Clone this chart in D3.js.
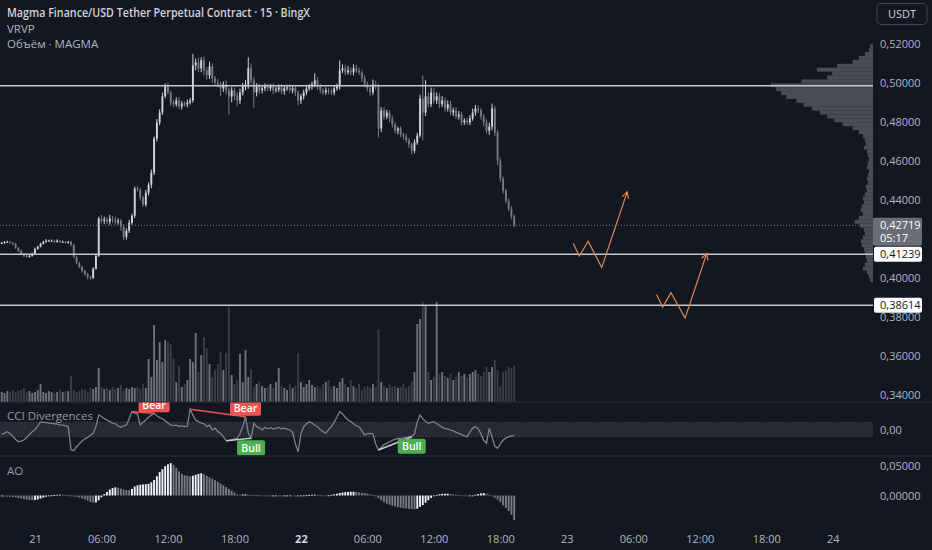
<!DOCTYPE html>
<html>
<head>
<meta charset="utf-8">
<script src="https://cdn.jsdelivr.net/npm/d3@7"></script>
<style>
  body { margin: 0; background: #131722; }
  svg { display: block; font-family: "Open Sans", "Noto Sans", sans-serif; }
</style>
</head>
<body>
<svg id="chart" width="932" height="550"></svg>
<script>
// 15-minute candles, first bar 20th 21:00
const closes = [
  0.4182,0.4187,0.4187,0.4182,0.4177,0.4156,0.4141,0.4126,0.4115,0.4110,0.4115,0.4126,
  0.4151,0.4162,0.4177,0.4187,0.4193,0.4193,0.4193,0.4187,0.4193,0.4187,0.4187,0.4182,
  0.4187,0.4172,0.4110,0.4079,0.4059,0.4038,0.4023,0.4007,0.4002,0.4049,0.4115,0.4306,
  0.4295,0.4301,0.4290,0.4306,0.4301,0.4290,0.4295,0.4264,0.4213,0.4244,0.4285,0.4321,
  0.4460,0.4455,0.4414,0.4378,0.4439,0.4480,0.4542,0.4717,0.4799,0.4850,0.4933,0.4984,
  0.4953,0.4902,0.4892,0.4912,0.4881,0.4897,0.4892,0.4902,0.4912,0.5092,0.5107,0.5077,
  0.5118,0.5066,0.5041,0.5087,0.5025,0.5005,0.4994,0.4974,0.4994,0.4964,0.4933,0.4964,
  0.4938,0.4912,0.4953,0.4984,0.4994,0.5077,0.5015,0.4953,0.4984,0.4964,0.4974,0.4984,
  0.4974,0.4984,0.4964,0.4969,0.4979,0.4959,0.4974,0.4979,0.4964,0.4974,0.4953,0.4912,
  0.4933,0.4953,0.4974,0.4984,0.4994,0.5015,0.4984,0.4964,0.4953,0.4964,0.4959,0.4953,
  0.4974,0.4984,0.5066,0.5077,0.5056,0.5066,0.5056,0.5077,0.5066,0.5056,0.5025,0.4994,
  0.4974,0.4953,0.4994,0.4984,0.4768,0.4861,0.4830,0.4850,0.4820,0.4789,0.4758,0.4768,
  0.4737,0.4727,0.4707,0.4686,0.4655,0.4696,0.4732,0.4922,0.4850,0.4933,0.4892,0.4953,
  0.4912,0.4933,0.4892,0.4912,0.4871,0.4892,0.4850,0.4861,0.4830,0.4840,0.4799,0.4809,
  0.4799,0.4820,0.4850,0.4871,0.4861,0.4830,0.4799,0.4758,0.4778,0.4871,0.4748,0.4604,
  0.4511,0.4450,0.4398,0.4357,0.4316,0.42719
];
const firstOpen = 0.4180;
// wick lengths above / below the body, in 0.0001
const wickUp = [
  5,4,6,5,4,3,4,5,4,6,5,6, 6,5,5,6,8,5,6,5,7,4,6,5, 5,6,4,5,6,5,4,6,5,8,6,10,
  18,15,12,20,14,16,12,10,14,12,15,10, 10,12,8,10,14,12,15,10,18,16,20,15,
  20,10,12,15,18,12,10,14,12,58,20,25, 15,20,18,25,15,12,18,14,15,20,14,16,
  14,16,20,18,22,56,25,18,16,14,18,15, 14,12,16,12,15,18,12,14,16,12,14,10,
  12,14,16,12,14,36,16,14,12,15,12,14, 12,14,52,20,18,22,16,20,18,15,14,16,
  14,16,25,20,14,16,18,14,12,14,12,10, 12,10,14,12,10,16,14,20,119,82,20,25,
  25,20,18,22,16,20,18,14,16,18,14,12, 14,16,20,18,15,12,14,16,20,25,14,12,
  14,12,10,12,14,10
];
const wickDn = [
  4,5,3,4,6,5,6,5,6,4,5,4, 4,5,4,3,5,4,5,6,4,5,3,5, 5,8,6,7,6,8,10,12,10,6,5,6,
  14,16,12,15,18,14,15,20,16,14,12,10, 12,10,15,12,10,14,18,12,15,14,12,10,
  12,18,15,12,14,16,12,15,10,12,25,20, 20,25,22,18,24,20,16,40,18,20,95,30,
  25,30,18,16,20,22,18,80,20,18,16,15, 16,14,18,12,14,16,18,12,14,16,18,25,
  18,16,14,12,16,14,18,16,14,12,16,14, 14,12,16,14,16,12,14,16,12,14,18,16,
  16,20,14,16,46,18,16,14,18,16,14,20, 14,16,12,18,20,14,12,10,143,18,16,14,
  16,18,20,14,18,16,14,18,12,16,14,12, 12,14,12,16,14,18,20,16,22,18,20,25,
  18,16,14,12,14,10
];
// volume (MAGMA, thousands)
const volumes = [
  10,9,11,10,12,10,11,12,14,10,11,9, 10,12,18,10,9,11,10,9,10,12,10,11,
  11,26,12,10,11,13,12,10,14,13,15,34, 15,13,14,12,15,13,14,17,12,14,13,15,
  14,15,13,18,14,43,25,77,42,60,40,62, 60,58,43,20,36,15,18,22,43,40,69,30,
  47,65,54,38,25,32,38,50,32,49,95,27, 18,22,48,20,52,25,33,15,18,20,16,14,
  15,18,14,20,34,16,14,12,18,14,16,49, 20,15,18,22,17,15,16,14,18,20,22,15,
  16,14,20,24,18,15,22,16,14,18,12,15, 16,14,18,15,73,20,16,14,18,15,16,14,
  15,18,14,16,20,30,78,83,100,97,30,22, 25,100,28,30,26,24,28,22,25,30,26,28,
  25,28,30,32,28,26,30,35,30,35,42,32, 16,30,32,35,34,36
];
// CCI values
const cci = [
  -70,-50,-30,-60,-90,-140,-170,-160,-146,-110,-70,-30,
  -5,50,105,100,95,90,86,80,75,65,60,50,
  40,-280,-294,-240,-200,-160,-130,-110,-80,-53,40,201,
  180,150,132,110,90,80,50,30,50,62,150,247,
  230,215,62,100,132,170,200,225,190,165,150,120,
  90,62,55,60,45,50,39,45,280,200,132,110,
  90,80,40,60,-7,20,-30,-53,-100,-155,-150,-140,
  -130,-122,-60,40,178,-50,-122,86,40,20,-7,30,
  10,25,5,16,30,10,20,5,-7,-40,-200,-308,
  -60,39,80,108,90,60,39,0,-30,-53,0,39,
  100,170,247,220,170,132,110,80,50,39,-20,-76,
  -60,-53,-60,-200,-285,-250,-210,-192,-170,-150,-135,-125,
  -122,-115,-110,-105,-100,-60,100,201,150,110,86,100,
  108,80,60,30,16,10,-10,-20,-40,-53,-70,-90,
  -100,-40,20,39,10,-60,-150,-192,16,-100,-230,-261,
  -200,-146,-120,-100,-90,-86
];
// Awesome Oscillator
const ao = [
  -0.0015,-0.0018,-0.0020,-0.0022,-0.0025,-0.0030,-0.0040,-0.0050,-0.0060,-0.0070,-0.0075,-0.0078,
  -0.0075,-0.0065,-0.0050,-0.0035,-0.0020,-0.0008,0.0002,0.0008,0.0012,0.0014,0.0013,0.0010,
  0.0004,-0.0005,-0.0015,-0.0025,-0.0035,-0.0050,-0.0065,-0.0085,-0.0105,-0.0120,-0.0115,-0.0080,
  -0.0030,0.0025,0.0060,0.0100,0.0125,0.0137,0.0130,0.0115,0.0100,0.0092,0.0090,0.0110,
  0.0150,0.0170,0.0180,0.0185,0.0190,0.0195,0.0220,0.0260,0.0320,0.0390,0.0440,0.0490,
  0.0520,0.0540,0.0510,0.0460,0.0400,0.0360,0.0340,0.0330,0.0320,0.0330,0.0345,0.0360,
  0.0370,0.0355,0.0330,0.0305,0.0280,0.0255,0.0230,0.0200,0.0170,0.0140,0.0110,0.0080,
  0.0050,0.0020,0.0012,0.0015,0.0018,0.0014,0.0010,0.0008,0.0004,0.0002,-0.0002,-0.0005,
  -0.0008,-0.0010,-0.0008,-0.0006,-0.0010,-0.0014,-0.0012,-0.0010,-0.0008,-0.0012,-0.0016,-0.0014,
  -0.0008,-0.0002,0.0004,0.0010,0.0012,0.0014,0.0010,0.0004,0.0000,-0.0002,0.0002,0.0010,
  0.0020,0.0030,0.0042,0.0050,0.0056,0.0060,0.0062,0.0063,0.0058,0.0052,0.0046,0.0040,
  0.0032,0.0020,0.0005,-0.0015,-0.0045,-0.0080,-0.0110,-0.0135,-0.0155,-0.0170,-0.0185,-0.0195,
  -0.0205,-0.0212,-0.0218,-0.0222,-0.0225,-0.0230,-0.0220,-0.0190,-0.0160,-0.0120,-0.0080,-0.0040,
  -0.0010,0.0010,0.0020,0.0028,0.0030,0.0030,0.0026,0.0020,0.0014,0.0008,0.0002,-0.0004,
  -0.0008,-0.0006,0.0000,0.0012,0.0025,0.0035,0.0040,0.0030,0.0015,-0.0005,-0.0035,-0.0070,
  -0.0110,-0.0165,-0.0210,-0.0260,-0.0320,-0.0410
];
// visible range volume profile, bins of 0.002 from 0.398 upwards
const vpLow = 0.398, vpStep = 0.002;
const vpVolume = [
  3,4,6,10,8,6,7,8,9,11,12,10,8,9,13,18,14,10,12,11,9,10,8,6,7,5,6,5,4,6,
  5,4,5,6,9,7,8,10,14,20,30,38,45,52,60,68,75,85,90,95,100,70,45,40,55,35,20,14,8,4,3
];
// CCI divergences: [from bar, to bar]
const bearDiv = [[47, 55], [68, 88]];
const bullDiv = [[81, 90], [136, 148]];
// horizontal levels and drawn projections [bar, price]
const levels = [0.4987, 0.41239, 0.38614];
const projections = [
  [[206.3, 0.4180], [208.5, 0.4114], [211.7, 0.4190], [216.6, 0.4055], [225.8, 0.4443]],
  [[236.4, 0.3917], [238.6, 0.3852], [241.6, 0.3926], [246.7, 0.3796], [254.5, 0.4127]]
];
const priceTicks = [0.52, 0.50, 0.48, 0.46, 0.44, 0.40, 0.38, 0.36, 0.34];
const cciTicks = [0];
const aoTicks = [0.05, 0];
const boldDays = [22];
const lastPrice = 0.42719, countdown = "05:17";

const svg = d3.select("#chart");
const W = 932, H = 550, plotR = 873;
const bg = "#131722", txt = "#b2b5be", grid = "#2a2e39";
const upCol = "#d1d4dc", dnCol = "#787b86";

const loc = d3.formatLocale({ decimal: ",", thousands: " ", grouping: [3], currency: ["", ""] });
const f5 = loc.format(".5f"), f2 = loc.format(".2f");

const t0 = new Date(2025, 0, 20, 21, 0);
const barTime = i => new Date(t0.getTime() + i * 9e5);
const x = d3.scaleTime()
  .domain([barTime(-0.635), barTime(314.53)])
  .range([0, plotR]);
const step = x(barTime(1)) - x(barTime(0));
const bodyW = step * 0.68;

const panes = { main: [0, 402], cci: [402, 456], ao: [456, 524] };
const yP = d3.scaleLinear().domain([0.34, 0.52]).range([395.3, 44.3]);
const yV = d3.scaleLinear().domain([0, 100]).range([402, 302]);
const yC = d3.scaleLinear().domain([-100, 100]).range([436.7, 422.3]);
const yA = d3.scaleLinear().domain([0, 0.05]).range([495.5, 465.5]);
const vpW = d3.scaleLinear().domain([0, 100]).range([0, 102]);

svg.append("rect").attr("width", W).attr("height", H).attr("fill", bg);

const defs = svg.append("defs");
Object.entries(panes).forEach(([k, [a, b]]) => {
  defs.append("clipPath").attr("id", "clip-" + k)
    .append("rect").attr("x", 0).attr("y", a).attr("width", plotR).attr("height", b - a);
});

const bars = closes.map((c, i) => {
  const o = i ? closes[i - 1] : firstOpen;
  return {
    i, t: barTime(i), o, c,
    h: Math.max(o, c) + wickUp[i] * 1e-4,
    l: Math.min(o, c) - wickDn[i] * 1e-4,
    v: volumes[i], up: c >= o
  };
});

// ---- main pane
const main = svg.append("g").attr("clip-path", "url(#clip-main)");

// volume profile on the right
const vpBins = vpVolume.map((v, k) => ({ p: vpLow + k * vpStep, v }));
main.append("g").selectAll("rect").data(vpBins).join("rect")
  .attr("x", d => plotR - vpW(d.v))
  .attr("width", d => vpW(d.v))
  .attr("y", d => yP(d.p + vpStep))
  .attr("height", d => yP(d.p) - yP(d.p + vpStep))
  .attr("fill", "#5d606b")
  .attr("opacity", 0.75);

main.append("g").selectAll("rect").data(bars).join("rect")
  .attr("x", d => x(d.t) - bodyW / 2)
  .attr("width", bodyW)
  .attr("y", d => yV(d.v))
  .attr("height", d => yV(0) - yV(d.v))
  .attr("fill", d => d.up ? "#6f727b" : "#3b3e47");

main.append("g").selectAll("line").data(bars).join("line")
  .attr("x1", d => x(d.t)).attr("x2", d => x(d.t))
  .attr("y1", d => yP(d.h)).attr("y2", d => yP(d.l))
  .attr("stroke", d => d.up ? upCol : dnCol)
  .attr("stroke-width", 1);

main.append("g").selectAll("rect").data(bars).join("rect")
  .attr("x", d => x(d.t) - bodyW / 2)
  .attr("width", bodyW)
  .attr("y", d => yP(Math.max(d.o, d.c)))
  .attr("height", d => Math.max(1, Math.abs(yP(d.o) - yP(d.c))))
  .attr("fill", d => d.up ? upCol : dnCol);

main.append("line")
  .attr("x1", 0).attr("x2", plotR)
  .attr("y1", yP(lastPrice)).attr("y2", yP(lastPrice))
  .attr("stroke", "#787b86").attr("stroke-dasharray", "1,2");

main.append("g").selectAll("line").data(levels).join("line")
  .attr("x1", 0).attr("x2", plotR)
  .attr("y1", d => yP(d)).attr("y2", d => yP(d))
  .attr("stroke", "#c3c6ce").attr("stroke-width", 1.5);

const projLine = d3.line().x(d => x(barTime(d[0]))).y(d => yP(d[1]));
projections.forEach(pts => {
  main.append("path").attr("d", projLine(pts))
    .attr("fill", "none").attr("stroke", "#dc8a55").attr("stroke-width", 1.2);
  const a = pts[pts.length - 2], b = pts[pts.length - 1];
  const bx = x(barTime(b[0])), by = yP(b[1]);
  const ang = Math.atan2(by - yP(a[1]), bx - x(barTime(a[0])));
  const head = [ang + Math.PI - 0.5, ang + Math.PI + 0.5].map(q => [bx + 7 * Math.cos(q), by + 7 * Math.sin(q)]);
  main.append("path").attr("d", d3.line()([head[0], [bx, by], head[1]]))
    .attr("fill", "none").attr("stroke", "#dc8a55").attr("stroke-width", 1.2);
});

// ---- CCI pane
const cciG = svg.append("g").attr("clip-path", "url(#clip-cci)");
cciG.append("rect")
  .attr("x", 0).attr("width", plotR)
  .attr("y", yC(100)).attr("height", yC(-100) - yC(100))
  .attr("fill", "#262a35");
[100, -100].forEach(v => cciG.append("line")
  .attr("x1", 0).attr("x2", plotR).attr("y1", yC(v)).attr("y2", yC(v))
  .attr("stroke", "#4a4e59").attr("stroke-dasharray", "1,2"));
cciG.append("path")
  .attr("d", d3.line().x((d, i) => x(barTime(i))).y(d => yC(d))(cci))
  .attr("fill", "none").attr("stroke", "#7e818b").attr("stroke-width", 1.3);

function divLine(pair, col) {
  cciG.append("line")
    .attr("x1", x(barTime(pair[0]))).attr("y1", yC(cci[pair[0]]))
    .attr("x2", x(barTime(pair[1]))).attr("y2", yC(cci[pair[1]]))
    .attr("stroke", col).attr("stroke-width", 1.5);
}
function divLabel(pair, col, text, below) {
  const cx = x(barTime(pair[1])), cy = yC(cci[pair[1]]);
  const w = text === "Bear" ? 31 : 28, h = 15;
  const top = below ? cy + 2 : cy - 1 - h;
  const g = cciG.append("g");
  g.append("rect").attr("x", cx - w / 2).attr("y", top).attr("width", w).attr("height", h)
    .attr("rx", 2).attr("fill", col);
  g.append("text").attr("x", cx).attr("y", top + h / 2 + 4)
    .attr("text-anchor", "middle").attr("fill", "#ffffff")
    .attr("font-size", 10.5).attr("font-weight", 600).text(text);
}
bearDiv.forEach(p => divLine(p, "#ef5350"));
bullDiv.forEach(p => divLine(p, "#c8cad0"));
bearDiv.forEach(p => divLabel(p, "#ef5350", "Bear", false));
bullDiv.forEach(p => divLabel(p, "#4caf50", "Bull", true));

// ---- AO pane
const aoG = svg.append("g").attr("clip-path", "url(#clip-ao)");
aoG.selectAll("rect").data(ao).join("rect")
  .attr("x", (d, i) => x(barTime(i)) - bodyW / 2)
  .attr("width", bodyW)
  .attr("y", d => Math.min(yA(d), yA(0)))
  .attr("height", d => Math.max(0.8, Math.abs(yA(d) - yA(0))))
  .attr("fill", (d, i) => (i === 0 || d >= ao[i - 1]) ? "#f0f3fa" : "#787b86");

// ---- pane separators
[panes.cci[0], panes.ao[0]].forEach(yy => svg.append("line")
  .attr("x1", 0).attr("x2", W).attr("y1", yy).attr("y2", yy)
  .attr("stroke", grid));

// ---- axes
function styleAxis(g) {
  g.select(".domain").remove();
  g.selectAll("text").attr("fill", txt).attr("font-size", 11)
    .attr("font-family", "'Open Sans','Noto Sans',sans-serif");
}
svg.append("g").attr("transform", `translate(${plotR},0)`)
  .call(d3.axisRight(yP).tickValues(priceTicks).tickSize(0).tickPadding(7).tickFormat(f5))
  .call(styleAxis);
svg.append("g").attr("transform", `translate(${plotR},0)`)
  .call(d3.axisRight(yC).tickValues(cciTicks).tickSize(0).tickPadding(7).tickFormat(f2))
  .call(styleAxis);
svg.append("g").attr("transform", `translate(${plotR},0)`)
  .call(d3.axisRight(yA).tickValues(aoTicks).tickSize(0).tickPadding(7).tickFormat(f5))
  .call(styleAxis);

const fmtTime = d => d.getHours() === 0 ? d3.timeFormat("%-d")(d) : d3.timeFormat("%H:%M")(d);
svg.append("g").attr("transform", "translate(0,532)")
  .call(d3.axisBottom(x).ticks(d3.timeHour.every(6)).tickSize(0).tickPadding(3).tickFormat(fmtTime))
  .call(styleAxis)
  .selectAll("text")
  .attr("font-weight", d => d.getHours() === 0 && boldDays.includes(d.getDate()) ? 700 : 400)
  .attr("fill", d => d.getHours() === 0 && boldDays.includes(d.getDate()) ? "#d1d4dc" : txt);

// price labels on the axis
const lp = yP(lastPrice);
svg.append("rect").attr("x", plotR).attr("y", lp - 7.5).attr("width", 49).attr("height", 28)
  .attr("rx", 2).attr("fill", "#6a6d78");
svg.append("text").attr("x", plotR + 7).attr("y", lp + 4).attr("fill", "#ffffff")
  .attr("font-size", 11).text(f5(lastPrice));
svg.append("text").attr("x", plotR + 7).attr("y", lp + 17).attr("fill", "#ffffff")
  .attr("font-size", 11).text(countdown);
levels.slice(1).forEach(v => {
  svg.append("rect").attr("x", plotR + 1).attr("y", yP(v) - 7.5).attr("width", 48).attr("height", 15)
    .attr("rx", 2).attr("fill", "#ffffff");
  svg.append("text").attr("x", plotR + 7).attr("y", yP(v) + 4).attr("fill", "#131722")
    .attr("font-size", 11).text(f5(v));
});

// currency button
svg.append("rect").attr("x", 877).attr("y", 3.5).attr("width", 50).attr("height", 21)
  .attr("rx", 4).attr("fill", "#131722").attr("stroke", "#434651");
svg.append("text").attr("x", 902).attr("y", 18).attr("text-anchor", "middle")
  .attr("fill", "#d1d4dc").attr("font-size", 11).text("USDT");

// titles
svg.append("text").attr("x", 7).attr("y", 17).attr("fill", "#d1d4dc")
  .attr("font-size", 12).attr("font-weight", 600)
  .attr("textLength", 303).attr("lengthAdjust", "spacingAndGlyphs")
  .text("Magma Finance/USD Tether Perpetual Contract · 15 · BingX");
svg.append("text").attr("x", 7).attr("y", 33).attr("fill", txt).attr("font-size", 11.5).text("VRVP");
svg.append("text").attr("x", 7).attr("y", 48).attr("fill", txt).attr("font-size", 11.5).text("Объём · MAGMA");
svg.append("text").attr("x", 7).attr("y", 420).attr("fill", "#9598a1").attr("font-size", 11.5).text("CCI Divergences");
svg.append("text").attr("x", 7).attr("y", 475).attr("fill", "#9598a1").attr("font-size", 11.5).text("AO");
</script>
</body>
</html>
